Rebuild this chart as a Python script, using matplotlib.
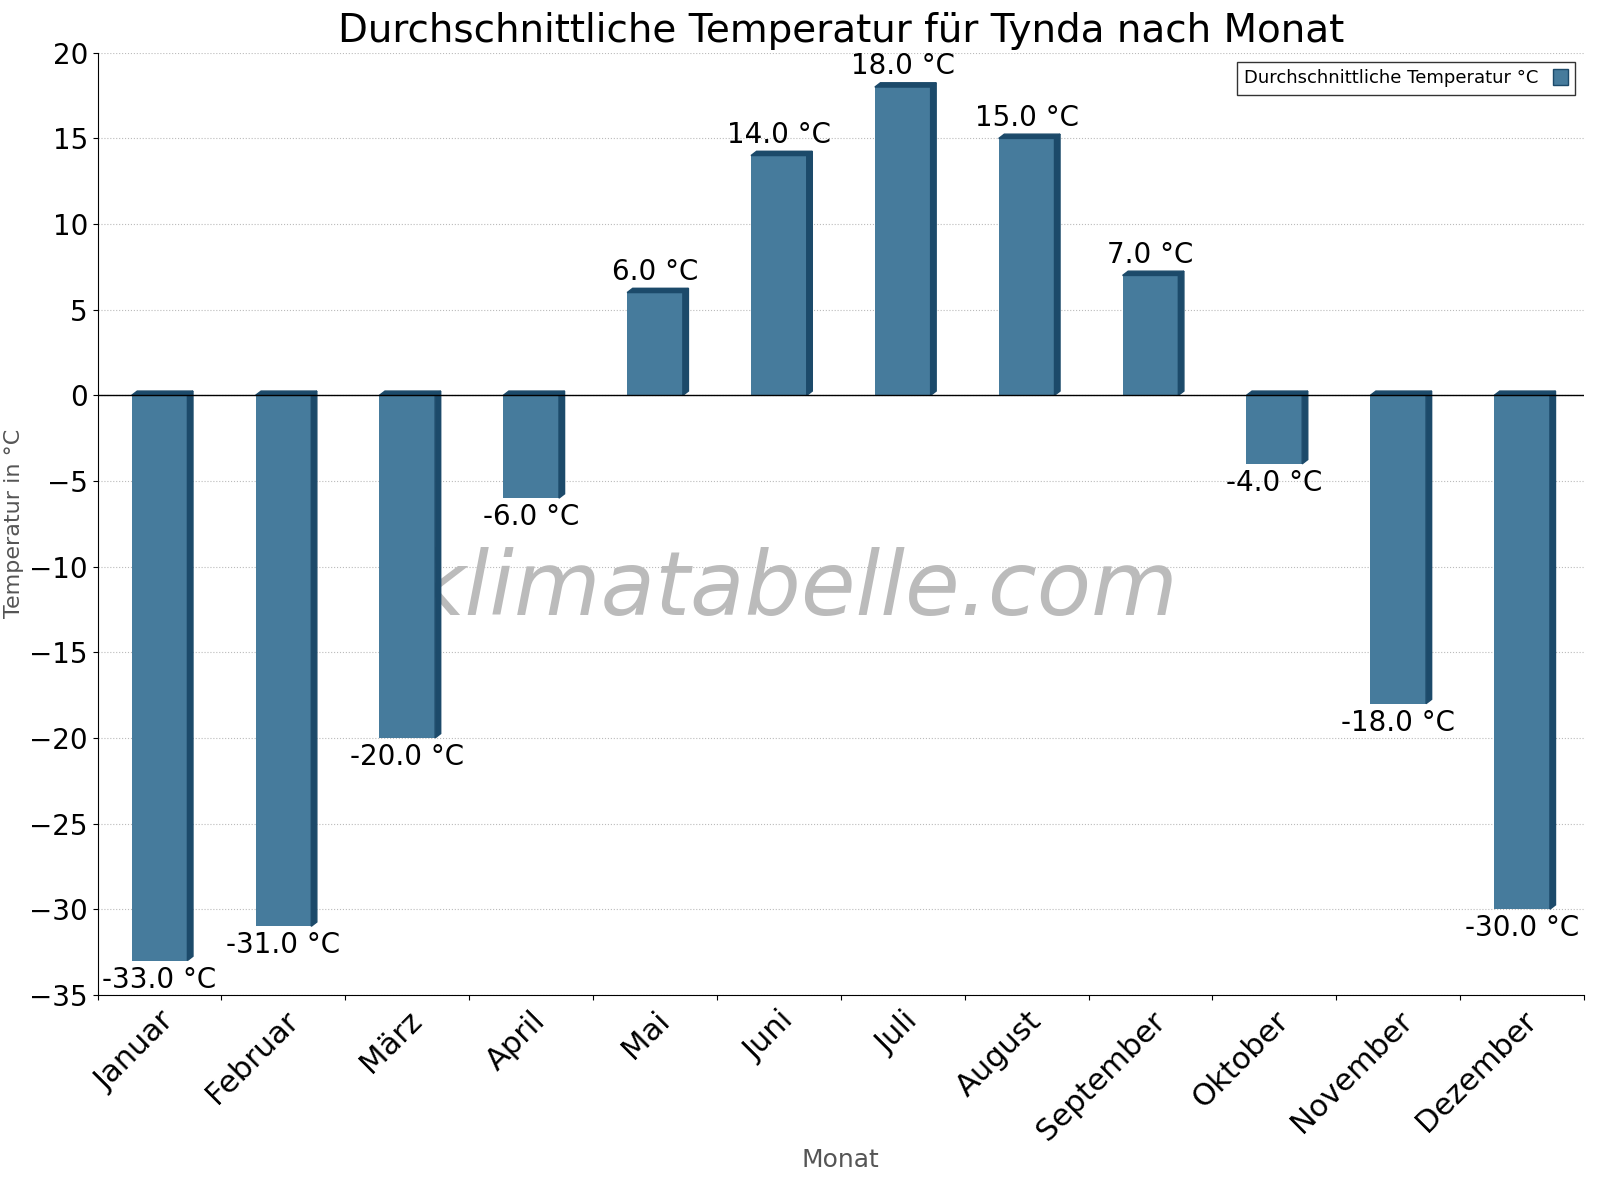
import matplotlib
matplotlib.use("Agg")
import matplotlib.pyplot as plt
from matplotlib.patches import Polygon, Patch
import numpy as np

months = ["Januar","Februar","März","April","Mai","Juni","Juli","August","September","Oktober","November","Dezember"]
temps = [-33.0,-31.0,-20.0,-6.0,6.0,14.0,18.0,15.0,7.0,-4.0,-18.0,-30.0]

fig = plt.figure(figsize=(16,12), dpi=100)
ax = fig.add_axes([0.061,0.171,0.929,0.785])
face = "#467b9c"; dark = "#1c4a6a"
w = 0.45; dx = 0.045; dy = 0.25
x = np.arange(len(months))
ax.bar(x, temps, width=w, color=face, zorder=3)
for xi, t in zip(x, temps):
    x0 = xi - w/2; x1 = xi + w/2
    ylo, yhi = min(0, t), max(0, t)
    ax.add_patch(Polygon([(x1,ylo),(x1,yhi),(x1+dx,yhi+dy),(x1+dx,ylo+dy)], closed=True, color=dark, zorder=3))
    ax.add_patch(Polygon([(x0,yhi),(x1,yhi),(x1+dx,yhi+dy),(x0+dx,yhi+dy)], closed=True, color=dark, zorder=3))
    lab = f"{t:.1f} °C"
    if t >= 0:
        ax.text(xi, t+0.4, lab, ha="center", va="bottom", fontsize=20, zorder=5)
    else:
        ax.text(xi, t-0.3, lab, ha="center", va="top", fontsize=20, zorder=5)

ax.set_xlim(-0.5, 11.5)
ax.set_ylim(-35, 20)
ax.set_yticks(range(-35, 21, 5))
ax.set_xticks(np.arange(-0.5, 12, 1), minor=False)
ax.set_xticklabels([])
ax.set_xticks(x, minor=True)
ax.set_xticklabels(months, minor=True, rotation=45, ha="right", rotation_mode="anchor", fontsize=22)
ax.tick_params(axis="x", which="minor", length=0, pad=8)
ax.tick_params(axis="y", labelsize=20)
ax.axhline(0, color="black", lw=1, zorder=4)
ax.grid(axis="y", linestyle=":", color="#bbbbbb", zorder=0)
for s in ["top","right"]:
    ax.spines[s].set_visible(False)
ax.set_ylabel("Temperatur in °C", fontsize=16, color="#555555")
ax.set_xlabel("Monat", fontsize=18, color="#555555", labelpad=2)
ax.set_title("Durchschnittliche Temperatur für Tynda nach Monat", fontsize=28, pad=8)
ax.text(0.47, 0.43, "klimatabelle.com", transform=ax.transAxes, fontsize=64, style="italic",
        color="#bbbbbb", ha="center", va="center", zorder=2)
ax.legend(handles=[Patch(facecolor=face, edgecolor=dark, label="Durchschnittliche Temperatur °C")],
          loc="upper right", markerfirst=False, fancybox=False, edgecolor="black", fontsize=13,
          handlelength=0.8, handleheight=1.0)
fig.savefig("out.png")
